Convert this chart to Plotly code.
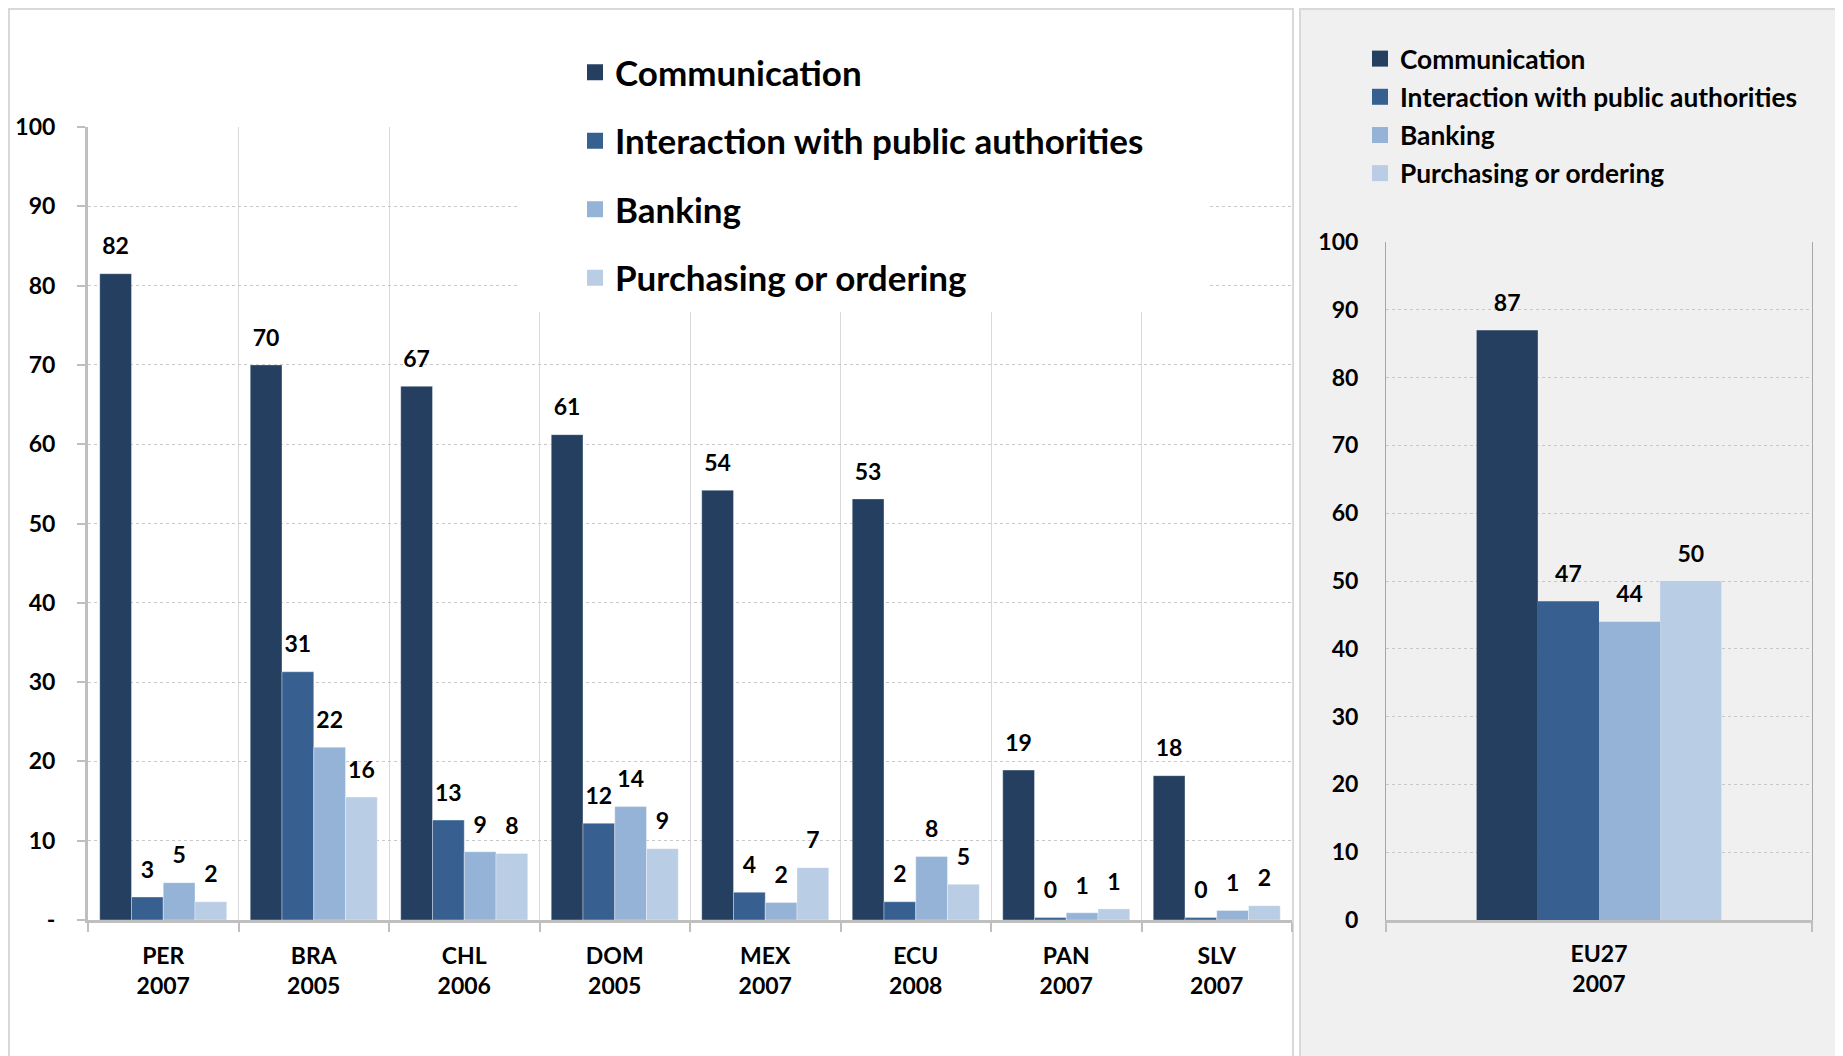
import plotly.graph_objects as go

# survey data, % of individuals using the internet for each activity
categories = ["PER<br>2007", "BRA<br>2005", "CHL<br>2006", "DOM<br>2005",
              "MEX<br>2007", "ECU<br>2008", "PAN<br>2007", "SLV<br>2007"]
communication = [81.5, 70.0, 67.3, 61.2, 54.2, 53.1, 18.9, 18.2]
interaction = [2.9, 31.3, 12.6, 12.2, 3.5, 2.3, 0.3, 0.3]
banking = [4.7, 21.8, 8.6, 14.3, 2.2, 8.0, 0.9, 1.2]
purchasing = [2.3, 15.5, 8.4, 9.0, 6.6, 4.5, 1.4, 1.8]

eu_label = "EU27<br>2007"
eu_communication = [87.0]
eu_interaction = [47.0]
eu_banking = [44.0]
eu_purchasing = [50.0]

series_names = ["Communication", "Interaction with public authorities",
                "Banking", "Purchasing or ordering"]
colors = ["#253f60", "#376091", "#95b3d7", "#b9cde5"]

left_ticks = list(range(0, 101, 10))
left_ticktext = ["-"] + [str(v) for v in left_ticks[1:]]

# the page body adds an 8px margin, so the figure is that much smaller
OFF = 8
W, H = 1843 - OFF, 1056 - OFF


def px(v):
    return (v - OFF) / W


def py(v):
    return 1 - (v - OFF) / H


FONT = "Lato"
# value label plus a small empty line, which lifts the number off the bar
LABEL = "<span style='font-size:23px'>%{y:.0f}</span><br>\u00a0"

fig = go.Figure()

left_series = [communication, interaction, banking, purchasing]
right_series = [eu_communication, eu_interaction, eu_banking, eu_purchasing]

for name, col, vals in zip(series_names, colors, left_series):
    fig.add_trace(go.Bar(
        x=categories, y=vals, name=name, marker_color=col,
        marker_line=dict(color="rgba(255,255,255,0.35)", width=1),
        texttemplate=LABEL, textposition="outside", constraintext="none",
        textfont=dict(size=11, color="black"), cliponaxis=False,
        showlegend=False, xaxis="x", yaxis="y"))

for name, col, vals in zip(series_names, colors, right_series):
    fig.add_trace(go.Bar(
        x=[0], y=vals, name=name, marker_color=col,
        marker_line=dict(width=0),
        texttemplate=LABEL, textposition="outside", constraintext="none",
        textfont=dict(size=11, color="black"), cliponaxis=False,
        showlegend=False, xaxis="x2", yaxis="y2"))

# legend entries (square swatches)
for name, col in zip(series_names, colors):
    fig.add_trace(go.Scatter(x=[None], y=[None], mode="markers", name=name,
                             marker=dict(symbol="square", size=16, color=col),
                             legend="legend", legendgroup="a" + name,
                             xaxis="x", yaxis="y"))
for name, col in zip(series_names, colors):
    fig.add_trace(go.Scatter(x=[None], y=[None], mode="markers", name=name,
                             marker=dict(symbol="square", size=16, color=col),
                             legend="legend2", legendgroup="b" + name,
                             xaxis="x2", yaxis="y2"))

eu_half = 0.5 * 0.844 * 362 / 208

fig.update_layout(
    template="none",
    width=W, height=H,
    margin=dict(l=0, r=0, t=0, b=0, autoexpand=False),
    paper_bgcolor="white",
    plot_bgcolor="rgba(0,0,0,0)",
    font=dict(family=FONT, weight="bold", color="black", size=23),
    barmode="group", bargap=0.156, bargroupgap=0,
    xaxis=dict(
        domain=[px(88), px(1292)], anchor="y", automargin=False,
        type="category", tickson="boundaries",
        ticks="outside", ticklen=9, tickwidth=2, tickcolor="#bfbfbf",
        showgrid=True, gridcolor="#d9d9d9", gridwidth=1, zeroline=False,
        showline=True, linecolor="#bfbfbf", linewidth=3,
        tickfont=dict(size=23), ticklabelstandoff=13,
    ),
    yaxis=dict(
        domain=[py(920), py(127)], anchor="x", automargin=False,
        range=[0, 100], tickvals=left_ticks, ticktext=left_ticktext,
        ticks="outside", ticklen=8, tickwidth=2, tickcolor="#bfbfbf",
        showgrid=True, gridcolor="#c8c8c8", griddash="dot", gridwidth=1,
        showline=True, linecolor="#bfbfbf", linewidth=3, zeroline=False,
        tickfont=dict(size=23), ticklabelstandoff=17,
    ),
    xaxis2=dict(
        domain=[px(1386), px(1812)], anchor="y2", automargin=False,
        range=[-eu_half, eu_half], tickvals=[0], ticktext=[eu_label],
        ticks="", showgrid=False, zeroline=False,
        showline=True, linecolor="#bfbfbf", linewidth=3,
        minor=dict(tickvals=[-eu_half, eu_half], ticks="outside", ticklen=9,
                   tickwidth=2, tickcolor="#bfbfbf", showgrid=False),
        tickfont=dict(size=23), ticklabelstandoff=11,
    ),
    yaxis2=dict(
        domain=[py(920), py(242)], anchor="x2", automargin=False,
        range=[0, 100], tickvals=left_ticks,
        ticks="", showgrid=True, gridcolor="#c8c8c8", griddash="dot",
        showline=True, linecolor="#a6a6a6", linewidth=1, mirror=True,
        zeroline=False, tickfont=dict(size=23), ticklabelstandoff=22,
    ),
    legend=dict(
        x=px(575), xanchor="left", y=py(43), yanchor="top",
        bgcolor="rgba(0,0,0,0)", font=dict(size=35),
        tracegroupgap=20, traceorder="grouped",
    ),
    legend2=dict(
        x=px(1360), xanchor="left", y=py(35), yanchor="top",
        bgcolor="rgba(0,0,0,0)", font=dict(size=26.3),
        tracegroupgap=1, traceorder="grouped",
    ),
    shapes=[
        dict(type="rect", xref="paper", yref="paper",
             x0=px(9), x1=px(1293), y0=-0.01, y1=py(9),
             fillcolor="white", line=dict(color="#d9d9d9", width=2),
             layer="below"),
        dict(type="rect", xref="paper", yref="paper",
             x0=px(1300), x1=1.01, y0=-0.01, y1=py(9),
             fillcolor="#f0f0f0", line=dict(color="#d9d9d9", width=2),
             layer="below"),
        # white box behind the left legend, hiding the gridlines
        dict(type="rect", xref="paper", yref="paper",
             x0=px(517), x1=px(1208), y0=py(312), y1=py(40),
             fillcolor="white", line=dict(width=0), layer="above"),
    ],
)

fig.write_html("out.html")
